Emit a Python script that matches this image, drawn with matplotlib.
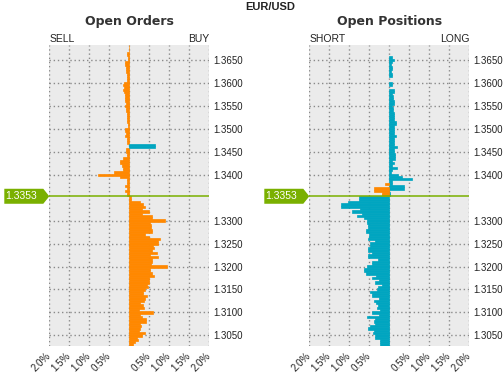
import numpy as np
import matplotlib.pyplot as plt
import matplotlib.transforms as mtransforms
from matplotlib.patches import Polygon

plt.rcParams['font.family'] = ['Liberation Sans', 'DejaVu Sans']

PAIR          = "EUR/USD"
CURRENT_PRICE = 1.3353
PRICE_TOP     = 1.3680   # centre of the top bucket
BUCKET        = 0.0005   # bucket size of the order book

ORANGE = "#ff8800"
TEAL   = "#00a5c0"
GREEN  = "#7ab000"

# Open Orders (orange), % per bucket from 1.3680 down to 1.3030
# negative = sell side, positive = buy side
orders_orange = [
    -0.02, -0.02, -0.02, -0.05, -0.06, -0.04, -0.04, -0.10, -0.10, -0.09,
    -0.09, -0.08, -0.06, -0.06, -0.06, -0.07, -0.13, -0.15, -0.13, -0.15,
    -0.13, -0.12, -0.12, -0.10, -0.10, -0.09, -0.12, -0.08, -0.08, -0.06,
    -0.06, -0.06, -0.05, -0.06, -0.04, -0.04, -0.10, -0.10, -0.09, -0.10,
    -0.07, -0.06, -0.07, 0.00, 0.00, -0.08, -0.08, -0.07, -0.07, -0.17,
    -0.23, -0.23, -0.18, -0.15, -0.15, -0.38, -0.78, -0.23, -0.07, -0.05,
    -0.06, -0.10, -0.07, -0.11, -0.06, -0.06, 0.03,
    0.03, 0.27, 0.35,
    0.39, 0.31, 0.49, 0.31, 0.56, 0.56, 0.89, 0.52, 0.53, 0.53,
    0.56, 0.56, 0.39, 0.48, 0.77, 0.71, 0.71, 0.58, 0.62, 0.56,
    0.68, 0.52, 0.71, 0.56, 0.56, 0.53, 0.93, 0.52, 0.52, 0.56,
    0.62, 0.50, 0.48, 0.48, 0.43, 0.47, 0.38, 0.35, 0.35, 0.43,
    0.39, 0.37, 0.27, 0.33, 0.37, 0.23, 0.58, 0.27, 0.31, 0.41,
    0.41, 0.27, 0.29, 0.27, 0.25, 0.39, 0.31, 0.18, 0.21, 0.13, 0.10,
]
orders_teal_prices = [1.3465, 1.3460]
orders_teal_values = [0.63, 0.63]

# Open Positions (teal), negative = short, positive = long
positions_teal = [
    0.00, 0.00, 0.00, 0.00, 0.00, 0.06, 0.12, 0.06, 0.04, 0.07,
    0.07, 0.05, 0.06, 0.06, 0.00, 0.00, 0.07, 0.07, 0.00, 0.12,
    0.12, 0.08, 0.10, 0.10, 0.13, 0.12, 0.08, 0.09, 0.09, 0.11,
    0.11, 0.12, 0.12, 0.17, 0.17, 0.12, 0.12, 0.11, 0.11, 0.17,
    0.12, 0.12, 0.12, 0.12, 0.19, 0.12, 0.12, 0.14, 0.14, 0.15,
    0.06, 0.12, 0.06, 0.19, 0.08, 0.05, 0.22, 0.32, 0.58, 0.06,
    0.07, 0.37, 0.37, 0.00, 0.02, 0.02, -0.76,
    -0.76, -1.03, -1.21,
    -1.21, -0.73, -0.93, -0.68, -0.81, -0.63, -0.56, -0.56, -0.52, -0.54,
    -0.58, -0.58, -0.51, -0.51, -0.53, -0.36, -0.48, -0.48, -0.52, -0.52,
    -0.43, -0.53, -0.53, -0.28, -0.43, -0.42, -0.56, -0.63, -0.63, -0.58,
    -0.32, -0.43, -0.26, -0.36, -0.17, -0.28, -0.30, -0.48, -0.43, -0.42,
    -0.26, -0.375, -0.32, -0.28, -0.30, -0.23, -0.43, -0.25, -0.55, -0.36,
    -0.37, -0.36, -0.48, -0.53, -0.38, -0.41, -0.36, -0.36, -0.23, -0.22, -0.22,
]
positions_orange_prices = [1.3380, 1.3370, 1.3365, 1.3360, 1.3355]
positions_orange_values = [-0.11, -0.38, -0.38, -0.18, -0.18]

price_ticks  = [1.3650, 1.3600, 1.3550, 1.3500, 1.3450, 1.3400,
                1.3300, 1.3250, 1.3200, 1.3150, 1.3100, 1.3050]
pct_ticks    = [-2.0, -1.5, -1.0, -0.5, 0.0, 0.5, 1.0, 1.5, 2.0]
pct_labels   = ["2.0%", "1.5%", "1.0%", "0.5%", "", "0.5%", "1.0%", "1.5%", "2.0%"]

buckets = PRICE_TOP - BUCKET * np.arange(len(orders_orange))

W, H = 503, 377
fig = plt.figure(figsize=(W / 100, H / 100), dpi=100)
fig.patch.set_facecolor("white")


def panel(left_px, title, left_lbl, right_lbl):
    ax = fig.add_axes([left_px / W, 1 - 345.7 / H, 160 / W, 300.7 / H])
    ax.set_facecolor("#ebebeb")
    ax.set_xlim(-2, 2)
    ax.set_ylim(buckets[-1] - BUCKET / 2, buckets[0] + BUCKET / 2)
    for s in ax.spines.values():
        s.set_visible(False)
    ax.set_xticks(pct_ticks)
    ax.set_xticklabels(pct_labels, rotation=45, ha="right", va="center",
                       rotation_mode="anchor", fontsize=7, color="#222222")
    ax.set_yticks(price_ticks)
    ax.set_yticklabels(["%.4f" % p for p in price_ticks], fontsize=7, color="#222222")
    ax.yaxis.tick_right()
    ax.tick_params(length=0)
    ax.tick_params(axis="y", pad=3)
    ax.tick_params(axis="x", pad=6)
    ax.grid(True, linestyle=(0, (1, 2)), color="#8a8a8a", lw=1)
    ax.set_axisbelow(True)

    cx = (left_px + 80) / W
    fig.text(cx, 1 - 21 / H, title, ha="center", va="center", fontsize=9,
             fontweight="bold", color="#333333", family="DejaVu Sans")
    fig.text(left_px / W, 1 - 39.5 / H, left_lbl, ha="left", va="center",
             fontsize=7.5, color="#222222")
    fig.text((left_px + 160) / W, 1 - 39.5 / H, right_lbl, ha="right",
             va="center", fontsize=7.5, color="#222222")

    # current price line and tag
    ax.axhline(CURRENT_PRICE, color=GREEN, lw=1.1, zorder=4)
    tr = mtransforms.blended_transform_factory(ax.transAxes, ax.transData)
    h = 7.5 * (ax.get_ylim()[1] - ax.get_ylim()[0]) / 300.7
    pts = [(-45 / 160, CURRENT_PRICE - h), (-6 / 160, CURRENT_PRICE - h),
           (0, CURRENT_PRICE), (-6 / 160, CURRENT_PRICE + h),
           (-45 / 160, CURRENT_PRICE + h)]
    ax.add_patch(Polygon(pts, closed=True, transform=tr, facecolor=GREEN,
                         edgecolor="none", clip_on=False, zorder=5))
    ax.text(-28.5 / 160, CURRENT_PRICE, "%.4f" % CURRENT_PRICE, transform=tr,
            ha="center", va="center", fontsize=7.5, color="white", zorder=6,
            clip_on=False)
    return ax


def bars(ax, prices, values, color):
    prices = np.asarray(prices)
    values = np.asarray(values)
    keep = values != 0   # empty buckets get no bar at all
    ax.barh(prices[keep], values[keep], height=BUCKET, color=color,
            edgecolor=color, lw=0.5, zorder=3)


ax1 = panel(49.3, "Open Orders", "SELL", "BUY")
bars(ax1, buckets, orders_orange, ORANGE)
bars(ax1, orders_teal_prices, orders_teal_values, TEAL)

ax2 = panel(309.3, "Open Positions", "SHORT", "LONG")
bars(ax2, buckets, positions_teal, TEAL)
bars(ax2, positions_orange_prices, positions_orange_values, ORANGE)

fig.text(270 / W, 1 - 7.5 / H, PAIR, ha="center", va="center", fontsize=8,
         fontweight="bold", color="#222222")

fig.savefig("out.png", dpi=100)
